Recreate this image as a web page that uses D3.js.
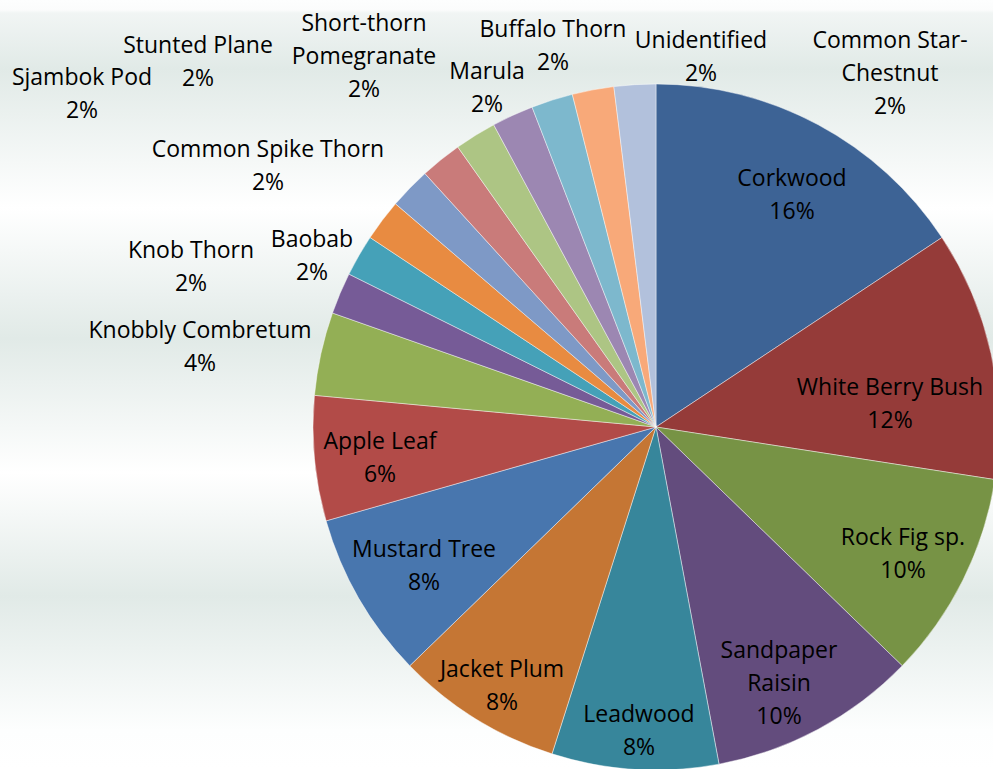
<!DOCTYPE html>
<html>
<head>
<meta charset="utf-8">
<script src="https://cdn.jsdelivr.net/npm/d3@7"></script>
<style>
  html, body { margin: 0; padding: 0; background: #fff; }
  svg { display: block; }
  text { font-family: "Open Sans", "Noto Sans", sans-serif; fill: #000; }
</style>
</head>
<body>
<svg id="chart" width="993" height="769"></svg>
<script>
// Tree species recorded (number of individuals), clockwise from 12 o'clock
const species = [
  "Corkwood", "White Berry Bush", "Rock Fig sp.", "Sandpaper Raisin", "Leadwood",
  "Jacket Plum", "Mustard Tree", "Apple Leaf", "Knobbly Combretum", "Knob Thorn",
  "Baobab", "Common Spike Thorn", "Sjambok Pod", "Stunted Plane",
  "Short-thorn Pomegranate", "Marula", "Buffalo Thorn", "Unidentified",
  "Common Star-Chestnut"
];
const counts = [8, 6, 5, 5, 4, 4, 4, 3, 2, 1, 1, 1, 1, 1, 1, 1, 1, 1, 1];

const sliceColors = [
  "#3d6395", "#953b39", "#779345", "#634c7d", "#37869b",
  "#c57634", "#4876ae", "#b24b48", "#93af55", "#765b97",
  "#45a1b8", "#e88b41", "#7e99c6", "#c97b7a",
  "#adc584", "#9c87b2", "#7db8cd", "#f8a979", "#b2c1dc"
];

// Label text lines (category name broken where it wraps)
const labelLines = {
  "White Berry Bush": ["White Berry Bush"],
  "Sandpaper Raisin": ["Sandpaper", "Raisin"],
  "Short-thorn Pomegranate": ["Short-thorn", "Pomegranate"],
  "Common Star-Chestnut": ["Common Star-", "Chestnut"]
};

// Label anchor: centre x and baseline of the first line
const labelAnchor = {
  "Corkwood": [792, 186],
  "White Berry Bush": [890, 395],
  "Rock Fig sp.": [903, 545],
  "Sandpaper Raisin": [779, 658],
  "Leadwood": [639, 722],
  "Jacket Plum": [502, 677],
  "Mustard Tree": [424, 557],
  "Apple Leaf": [380, 449],
  "Knobbly Combretum": [200, 338],
  "Knob Thorn": [191, 258],
  "Baobab": [312, 247],
  "Common Spike Thorn": [268, 157],
  "Sjambok Pod": [82, 85],
  "Stunted Plane": [198, 53],
  "Short-thorn Pomegranate": [364, 31],
  "Marula": [487, 79],
  "Buffalo Thorn": [553, 37],
  "Unidentified": [701, 48],
  "Common Star-Chestnut": [890, 48]
};

const W = 993, H = 769;
const cx = 656, cy = 427, radius = 343;
const fontSize = 23, lineGap = 33;

const svg = d3.select("#chart");

// Banded background fill
const defs = svg.append("defs");
const grad = defs.append("linearGradient")
  .attr("id", "bg")
  .attr("gradientUnits", "userSpaceOnUse")
  .attr("x1", 0).attr("y1", 0).attr("x2", 0).attr("y2", H);
[
  [0, "#fdfefe"], [0.013, "#fbfcfc"], [0.017, "#f1f5f4"], [0.09, "#e1eae7"],
  [0.27, "#ffffff"], [0.44, "#e1eae7"], [0.615, "#ffffff"], [0.775, "#e1eae7"],
  [0.95, "#fdfefe"], [1, "#ffffff"]
].forEach(([o, c]) => grad.append("stop").attr("offset", o).attr("stop-color", c));

svg.append("rect").attr("width", W).attr("height", H).attr("fill", "url(#bg)");

const data = species.map((name, i) => ({ name, value: counts[i], color: sliceColors[i] }));
const total = d3.sum(counts);

const pie = d3.pie().sort(null).value(d => d.value)
  .startAngle(0).endAngle(2 * Math.PI);
const arc = d3.arc().innerRadius(0).outerRadius(radius);

const g = svg.append("g").attr("transform", `translate(${cx},${cy})`);

g.selectAll("path.slice")
  .data(pie(data))
  .join("path")
  .attr("class", "slice")
  .attr("d", arc)
  .attr("fill", d => d.data.color)
  .attr("stroke", "rgba(255,255,255,0.55)")
  .attr("stroke-width", 0.8)
  .attr("stroke-linejoin", "round");

// Data labels: category name and share of total
const pct = d3.format(".0%");
const labels = svg.append("g").attr("class", "labels");
data.forEach(d => {
  const lines = (labelLines[d.name] || [d.name]).concat([pct(d.value / total)]);
  const [x, y] = labelAnchor[d.name];
  const t = labels.append("text")
    .attr("text-anchor", "middle")
    .attr("font-size", fontSize);
  lines.forEach((ln, k) => {
    t.append("tspan").attr("x", x).attr("y", y + k * lineGap).text(ln);
  });
});
</script>
</body>
</html>
